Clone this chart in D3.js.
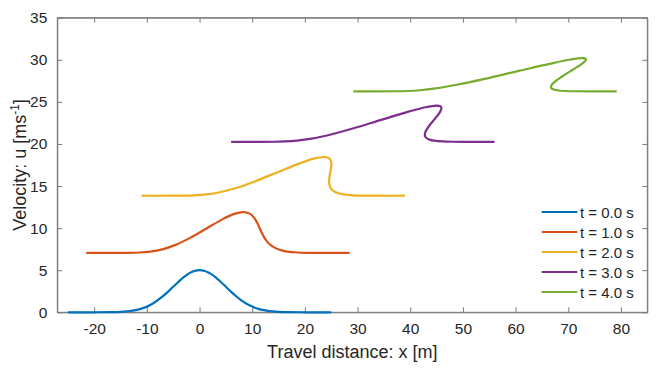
<!DOCTYPE html>
<html><head><meta charset="utf-8">
<script src="https://cdn.jsdelivr.net/npm/d3@7"></script>
<style>body{margin:0;background:#fff}svg{display:block}text{font-family:"Liberation Sans",Arial,Helvetica,sans-serif;fill:#262626}</style>
</head><body><svg id="c" width="656" height="368"></svg>
<script>
const labels = ["t = 0.0 s","t = 1.0 s","t = 2.0 s","t = 3.0 s","t = 4.0 s"];
const colors = ["#0072BD","#D95319","#EDB120","#7E2F8E","#77AC30"];
const xTicks = [-20,-10,0,10,20,30,40,50,60,70,80];
const yTicks = [0,5,10,15,20,25,30,35];
const x0 = [-25,-20,-17,-15,-13,-11,-9,-7,-5,-3,-1.5,0,1,1.5,2,3,4,5,6,7,8,9,10,11,12,13,15,17,20,25];
const u0 = [0,0.002,0.015,0.056,0.17,0.44,0.99,1.88,3.03,4.18,4.78,5,4.9,4.78,4.62,4.18,3.63,3.03,2.43,1.88,1.39,0.99,0.68,0.44,0.28,0.17,0.056,0.015,0.002,0];
const x1 = [-21.5,-16.5,-13.49,-11.45,-9.34,-7.07,-4.55,-1.7,1.41,4.51,6.59,8.3,9.21,9.59,9.93,10.51,10.99,11.41,11.84,12.3,12.83,13.45,14.15,14.93,15.77,16.66,18.55,20.51,23.5,28.5];
const u1 = [7.05,7.05,7.065,7.104,7.215,7.481,8.01,8.87,9.99,11.1,11.69,11.9,11.8,11.69,11.53,11.1,10.57,9.99,9.41,8.87,8.4,8.01,7.71,7.48,7.32,7.215,7.104,7.065,7.05,7.05];
const x2 = [-11,-6,-2.97,-0.89,1.33,3.85,6.9,10.6,14.82,19.02,21.68,23.6,24.41,24.68,24.86,25.02,24.97,24.82,24.67,24.6,24.67,24.9,25.3,25.85,26.54,27.33,29.11,31.03,34,39];
const u2 = [13.85,13.85,13.864,13.9,14.01,14.26,14.76,15.58,16.64,17.69,18.25,18.45,18.36,18.25,18.1,17.69,17.19,16.64,16.09,15.58,15.13,14.76,14.47,14.26,14.11,14.01,13.9,13.864,13.85,13.85];
const x3 = [6,11,14.04,16.16,18.48,21.25,24.77,29.25,34.49,39.69,42.88,45,45.72,45.88,45.92,45.69,45.17,44.49,43.82,43.25,42.89,42.77,42.89,43.25,43.79,44.48,46.16,48.04,51,56];
const u3 = [20.25,20.25,20.26,20.3,20.4,20.63,21.1,21.86,22.86,23.84,24.36,24.55,24.47,24.36,24.22,23.84,23.37,22.86,22.34,21.86,21.45,21.1,20.83,20.63,20.49,20.4,20.3,20.26,20.25,20.25];
const x4 = [29.2,34.21,37.26,39.41,41.83,44.85,48.86,54.14,60.42,66.65,70.39,72.7,73.33,73.39,73.28,72.65,71.63,70.42,69.21,68.14,67.34,66.86,66.7,66.85,67.24,67.83,69.41,71.26,74.21,79.2];
const u4 = [26.25,26.25,26.26,26.29,26.38,26.6,27.03,27.73,28.65,29.55,30.03,30.2,30.12,30.03,29.9,29.55,29.12,28.65,28.17,27.73,27.35,27.03,26.78,26.6,26.47,26.38,26.29,26.26,26.25,26.25];
const series = [[x0,u0],[x1,u1],[x2,u2],[x3,u3],[x4,u4]];

const L=57.3, R=647.3, T=17.7, B=312.3;
const svg = d3.select("#c");
const x = d3.scaleLinear().domain([-27,85]).range([L,R]);
const y = d3.scaleLinear().domain([0,35]).range([B,T]);
const axisCol = "#7a7a7a";

// box
svg.append("rect").attr("x",L).attr("y",T).attr("width",R-L).attr("height",B-T)
  .attr("fill","none").attr("stroke",axisCol).attr("stroke-width",1);

const fmt = d=>d<0?"-"+Math.abs(d):String(d);
const gx = svg.append("g").attr("transform",`translate(0,${B})`)
  .call(d3.axisBottom(x).tickValues(xTicks).tickSizeInner(-5).tickSizeOuter(0).tickPadding(11).tickFormat(fmt));
const gxt = svg.append("g").attr("transform",`translate(0,${T})`)
  .call(d3.axisTop(x).tickValues(xTicks).tickSizeInner(-5).tickSizeOuter(0).tickFormat(""));
const gy = svg.append("g").attr("transform",`translate(${L},0)`)
  .call(d3.axisLeft(y).tickValues(yTicks).tickSizeInner(-5).tickSizeOuter(0).tickPadding(10));
const gyr = svg.append("g").attr("transform",`translate(${R},0)`)
  .call(d3.axisRight(y).tickValues(yTicks).tickSizeInner(-5).tickSizeOuter(0).tickFormat(""));
[gx,gxt,gy,gyr].forEach(g=>{
  g.select(".domain").attr("stroke",axisCol);
  g.selectAll(".tick line").attr("stroke",axisCol);
  g.selectAll(".tick text").attr("font-size",15.5).attr("fill","#262626")
   .style("font-family","'Liberation Sans',Arial,sans-serif");
});

const line = d3.line().x(d=>x(d[0])).y(d=>y(d[1])).curve(d3.curveCatmullRom.alpha(0.5));
series.forEach((s,i)=>{
  const pts = s[0].map((v,j)=>[v,s[1][j]]);
  svg.append("path").attr("d",line(pts)).attr("fill","none")
    .attr("stroke",colors[i]).attr("stroke-width",2.2).attr("stroke-linejoin","round");
});

// axis labels
svg.append("text").attr("x",(L+R)/2).attr("y",358).attr("text-anchor","middle")
  .attr("font-size",18).text("Travel distance: x [m]");
const yl = svg.append("text").attr("transform",`translate(26,${(T+B)/2}) rotate(-90)`)
  .attr("text-anchor","middle").attr("font-size",18);
yl.append("tspan").text("Velocity: u [ms");
yl.append("tspan").attr("dy",-7).attr("font-size",12).text("-1");
yl.append("tspan").attr("dy",7).text("]");

// legend
const lg = svg.append("g");
labels.forEach((lab,i)=>{
  const yy = 212 + i*20;
  lg.append("line").attr("x1",541.7).attr("x2",577.3).attr("y1",yy).attr("y2",yy)
    .attr("stroke",colors[i]).attr("stroke-width",2.2);
  lg.append("text").attr("x",580).attr("y",yy+5.5).attr("font-size",15).text(lab);
});
</script></body></html>
